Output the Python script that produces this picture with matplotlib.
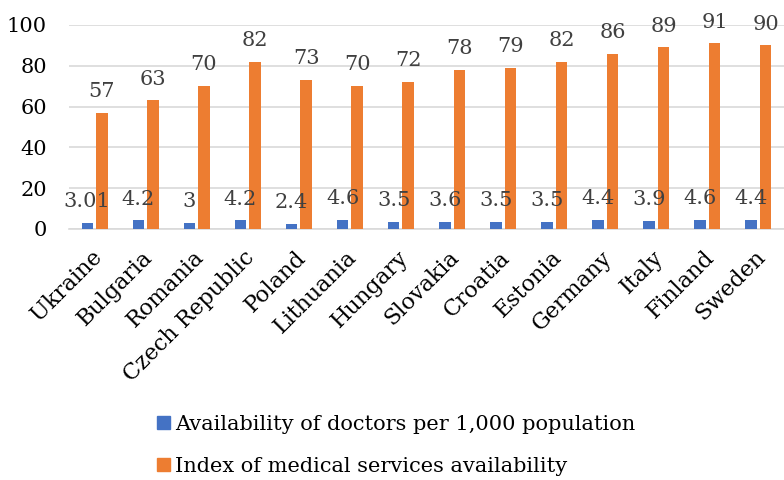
import matplotlib
matplotlib.use("Agg")
import matplotlib.pyplot as plt
import matplotlib.transforms as mtransforms
import numpy as np
from matplotlib.patches import Patch

countries = ["Ukraine", "Bulgaria", "Romania", "Czech Republic", "Poland", "Lithuania",
             "Hungary", "Slovakia", "Croatia", "Estonia", "Germany", "Italy", "Finland", "Sweden"]
doctors = [3.01, 4.2, 3, 4.2, 2.4, 4.6, 3.5, 3.6, 3.5, 3.5, 4.4, 3.9, 4.6, 4.4]
doctor_labels = ["3.01", "4.2", "3", "4.2", "2.4", "4.6", "3.5", "3.6", "3.5", "3.5", "4.4", "3.9", "4.6", "4.4"]
index_vals = [57, 63, 70, 82, 73, 70, 72, 78, 79, 82, 86, 89, 91, 90]
series_names = ["Availability of doctors per 1,000 population", "Index of medical services availability"]
yticks = [0, 20, 40, 60, 80, 100]

plt.rcParams['font.family'] = ['DejaVu Serif']
blue = "#4472C4"
orange = "#ED7D31"

fig = plt.figure(figsize=(7.84, 4.8), dpi=100)
ax = fig.add_axes([69/784, 1-229/480, (784-69)/784, (229-25)/480])

x = np.arange(len(countries))
w = 0.225
off = 0.142
ax.bar(x - off, doctors, w, color=blue, zorder=3)
ax.bar(x + off, index_vals, w, color=orange, zorder=3)

for xi, v, lab in zip(x, doctors, doctor_labels):
    ax.annotate(lab, (xi - off, v), xytext=(0, 8.5), textcoords="offset points",
                ha="center", va="bottom", fontsize=15, color="#404040")
for xi, v in zip(x, index_vals):
    ax.annotate(str(v), (xi + off, v), xytext=(0, 8.5), textcoords="offset points",
                ha="center", va="bottom", fontsize=15, color="#404040")

ax.set_xlim(-0.5, len(countries) - 0.5)
ax.set_ylim(0, 100)
ax.set_yticks(yticks)
ax.yaxis.grid(True, color="#d9d9d9", linewidth=1.2, zorder=0)
ax.set_axisbelow(True)
for s in ["top", "right", "left"]:
    ax.spines[s].set_visible(False)
ax.spines["bottom"].set_color("#d9d9d9")
ax.spines["bottom"].set_linewidth(1.2)
ax.tick_params(axis="y", length=0, pad=16, labelsize=15)
ax.tick_params(axis="x", length=0, pad=12.5, labelsize=16)
ax.set_xticks(x)
ax.set_xticklabels(countries, rotation=45, ha="right", rotation_mode="anchor")
shift = mtransforms.ScaledTranslation(-4/100, 0, fig.dpi_scale_trans)
for lbl in ax.get_xticklabels():
    lbl.set_transform(lbl.get_transform() + shift)

handles = [Patch(color=blue), Patch(color=orange)]
fig.legend(handles, series_names, loc="upper left", bbox_to_anchor=(157/784, 1-415/480),
           frameon=False, fontsize=15, handlelength=0.6, handleheight=0.6,
           handletextpad=0.25, labelspacing=1.1, borderaxespad=0, borderpad=0)

fig.savefig("out.png", dpi=100)
